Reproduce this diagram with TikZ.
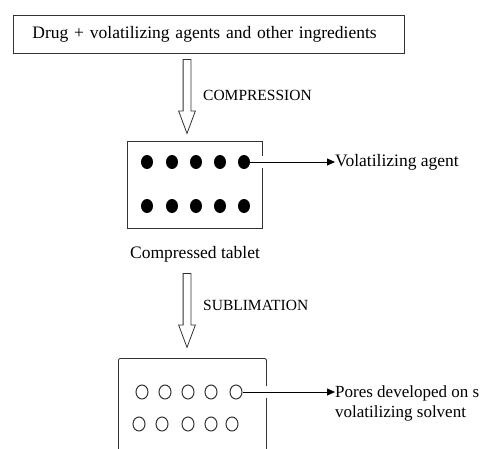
\documentclass[tikz,border=0pt]{standalone}
\usepackage{fontspec}
\setmainfont{Liberation Serif}
\usetikzlibrary{shapes.arrows,shapes.geometric,arrows.meta}

\begin{document}
\begin{tikzpicture}[x=1pt,y=-1pt]
    \tikzstyle{box}=[draw=black!80,line width=0.9pt,inner sep=0pt]
    \tikzstyle{dot}=[ellipse,fill=black,minimum width=12pt,minimum height=14pt,inner sep=0pt]
    \tikzstyle{pore}=[ellipse,draw=black!80,line width=1pt,minimum width=12pt,minimum height=14pt,inner sep=0pt]
    \tikzstyle{fatarrow}=[single arrow,draw=black!80,line width=0.8pt,shape border rotate=270,
        minimum height=74pt,minimum width=16pt,inner sep=3.5pt,
        single arrow head extend=4.5pt,single arrow tip angle=41]
    \tikzstyle{caps}=[font=\fontsize{15.5}{18}\selectfont,inner sep=0pt]
    \tikzstyle{txt}=[font=\fontsize{17.5}{20}\selectfont,inner sep=0pt]
    \tikzstyle{halo}=[preaction={draw=white,line width=12pt,-}]
    \tikzstyle{pointer}=[-{Triangle[length=8pt,width=7pt]},line width=0.8pt]
    \useasboundingbox (0,0) rectangle (490,448);
    \clip (0,0) rectangle (490,448);

    \node[box,txt,anchor=north west,minimum height=38pt,text width=353pt,
          inner xsep=19pt,align=left] (mix) at (13,15)
          {Drug + volatilizing agents and other ingredients};

    \node[fatarrow,anchor=tail] (press) at (187,59) {};
    \node[caps,anchor=west] (lbl-press) at (203,95) {COMPRESSION};

    \node[box,minimum width=135pt,minimum height=87pt] (tablet) at (194.5,184.5) {};
    \node[txt] (lbl-tablet) at (195,254) {Compressed tablet};

    \node[txt,anchor=west] (agent) at (335,162) {Volatilizing agent};
    \foreach \num/\x in {1/147, 2/172, 3/196, 4/220, 5/244}
    {
        \node[dot] (A-\num) at (\x,162) {};
        \node[dot] (B-\num) at (\x,206) {};
    }
    \draw[halo,pointer] (A-5) -- (agent.west);

    \node[fatarrow,anchor=tail] (sublime) at (187,273) {};
    \node[caps,anchor=west] (lbl-sublime) at (203,305) {SUBLIMATION};

    \node[box,anchor=north west,minimum width=148pt,minimum height=120pt,
          rounded corners=2pt] (porous) at (118,358) {};

    \node[font=\fontsize{17}{20}\selectfont,inner sep=0pt,anchor=west,align=left]
        (pores) at (335,403) {Pores developed on s\\volatilizing solvent};
    \foreach \num/\x/\y in {1/142/392, 2/165/392, 3/188/392, 4/211/392, 5/236/392,
                            6/139/424, 7/162/424, 8/188/424, 9/211/424, 10/232/424}
        \node[pore] (P-\num) at (\x,\y) {};
    \draw[halo,pointer] (P-5) -- (P-5 -| pores.west);
\end{tikzpicture}
\end{document}
